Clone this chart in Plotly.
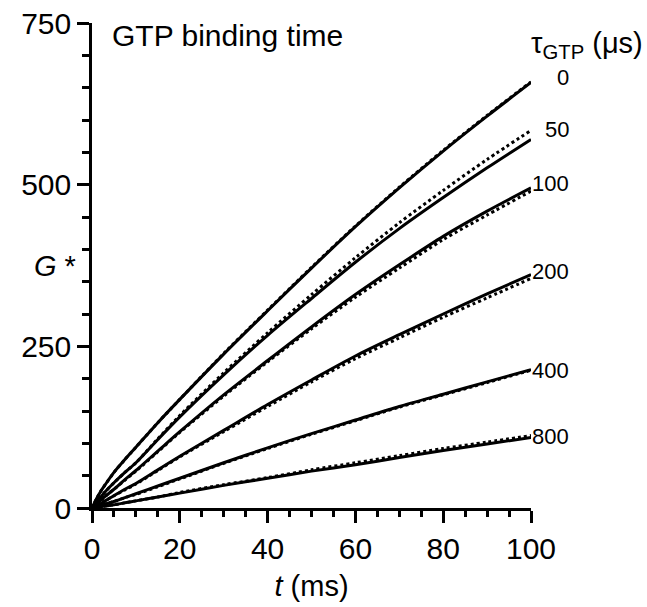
import plotly.graph_objects as go

# time points (ms)
t = [0, 1, 2, 3, 5, 7.5, 10, 15, 20, 30, 40, 50, 60, 70, 80, 90, 100]

# tau_GTP values (µs)
taus = ["0", "50", "100", "200", "400", "800"]

# G* solid curves
g_solid = {
    "0":   [0, 14, 26, 36, 55, 75, 94, 132, 168, 238, 305, 371, 435, 495, 552, 606, 658],
    "50":  [0, 9, 17, 25, 39, 55, 70, 106, 141, 206, 267, 324, 380, 432, 480, 526, 570],
    "100": [0, 6, 12, 18, 29, 44, 58, 88, 118, 175, 228, 280, 330, 376, 420, 459, 495],
    "200": [0, 3, 7, 11, 19, 29, 38, 59, 80, 120, 160, 198, 235, 268, 300, 331, 361],
    "400": [0, 2, 4, 6, 10, 16, 22, 34, 46, 70, 93, 115, 136, 157, 176, 195, 214],
    "800": [0, 1, 2, 3, 5, 8, 11, 17, 23, 35, 46, 57, 67, 78, 89, 99, 109],
}
# G* dotted curves
g_dotted = {
    "0":   [0, 14, 26, 36, 55, 75, 94, 132, 168, 239, 306, 372, 436, 496, 553, 607, 659],
    "50":  [0, 9, 17, 25, 39, 55, 70, 107, 143, 209, 271, 330, 387, 441, 491, 539, 584],
    "100": [0, 6, 12, 18, 29, 43, 57, 87, 117, 173, 226, 277, 326, 371, 415, 453, 490],
    "200": [0, 3, 7, 11, 19, 28, 37, 58, 79, 118, 157, 195, 231, 263, 295, 325, 355],
    "400": [0, 2, 4, 6, 10, 16, 21, 33, 45, 69, 92, 114, 135, 156, 175, 194, 213],
    "800": [0, 1, 2, 3, 5, 8, 11, 17, 24, 36, 47, 59, 70, 81, 92, 102, 112],
}

FONT = "Liberation Sans, Arial, sans-serif"
fig = go.Figure()

for k in taus:
    fig.add_trace(go.Scatter(x=t, y=g_dotted[k], mode="lines",
                             line=dict(color="black", width=3, dash="dot", shape="spline", smoothing=0.8),
                             showlegend=False, cliponaxis=False))
    fig.add_trace(go.Scatter(x=t, y=g_solid[k], mode="lines",
                             line=dict(color="black", width=3, shape="spline", smoothing=0.8),
                             showlegend=False, cliponaxis=False))

# end labels
label_y = {"0": 665, "50": 585, "100": 502, "200": 366, "400": 213, "800": 110}
for k in taus:
    fig.add_annotation(x=100, y=label_y[k], text=k, showarrow=False,
                       xanchor="right", xshift=40, yanchor="middle",
                       font=dict(family=FONT, size=22, color="black"))

fig.add_annotation(x=4, y=750, text="GTP binding time", showarrow=False,
                   xanchor="left", yanchor="top", yshift=6,
                   font=dict(family=FONT, size=30, color="black"))
fig.add_annotation(x=1.0, y=1.0, xref="paper", yref="paper",
                   text="τ<sub>GTP</sub> (μs)", showarrow=False,
                   xanchor="right", yanchor="top", xshift=114, yshift=-2,
                   font=dict(family=FONT, size=29, color="black"))
fig.add_annotation(x=0, y=375, xref="paper", text="<i>G</i> *", showarrow=False,
                   xanchor="right", yanchor="middle", xshift=-14,
                   font=dict(family=FONT, size=29, color="black"))

fig.update_layout(
    width=647, height=607,
    margin=dict(l=92, r=116, t=23, b=99),
    plot_bgcolor="white", paper_bgcolor="white",
    font=dict(family=FONT, size=30, color="black"),
    xaxis=dict(range=[0, 100], tickvals=[0, 20, 40, 60, 80, 100], automargin=False,
               showline=True, linecolor="black", linewidth=2.5,
               ticks="outside", ticklen=12, tickwidth=2.5, tickcolor="black",
               minor=dict(dtick=5, ticks="outside", ticklen=6, tickwidth=2.5, tickcolor="black"),
               showgrid=False, zeroline=False,
               title=dict(text="<i>t</i> (ms)", font=dict(size=29), standoff=12)),
    yaxis=dict(range=[0, 750], tickvals=[0, 250, 500, 750], automargin=False,
               showline=True, linecolor="black", linewidth=2.5,
               ticks="outside", ticklen=12, tickwidth=2.5, tickcolor="black",
               minor=dict(dtick=50, ticks="outside", ticklen=7, tickwidth=2.5, tickcolor="black"),
               showgrid=False, zeroline=False),
)

fig.write_html("out.html")
